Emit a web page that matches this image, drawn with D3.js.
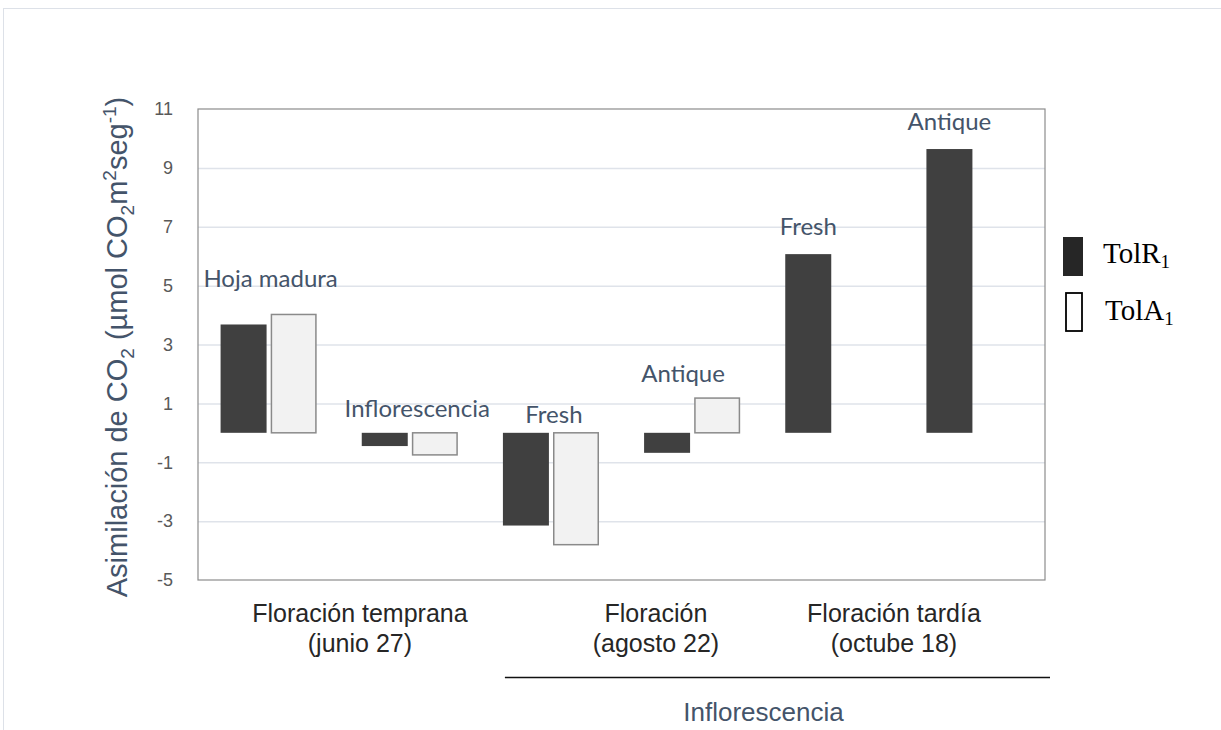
<!DOCTYPE html>
<html><head><meta charset="utf-8">
<script src="https://cdn.jsdelivr.net/npm/d3@7/dist/d3.min.js"></script>
<style>body{margin:0;background:#fff}svg{display:block}</style>
</head><body><svg id="c" width="1221" height="730"></svg>
<script>
const categories = ["c1","c2","c3","c4","c5","c6"];
const labels = ["Hoja madura","Inflorescencia","Fresh","Antique","Fresh","Antique"];
const tolR1 = [3.68, -0.45, -3.15, -0.68, 6.07, 9.64];
const tolA1 = [4.02, -0.75, -3.8, 1.18, null, null];
const labelAt = [4.95, 0.55, 0.33, 1.74, 6.72, 10.29];
const yTicks = [-5,-3,-1,1,3,5,7,9,11];
const seriesNames = ["TolR","TolA"];
const groupLabels = [["Floración temprana","(junio 27)"],["Floración","(agosto 22)"],["Floración tardía","(octube 18)"]];
const bracketLabel = "Inflorescencia";

const svg = d3.select("#c");
const m = {l:198, r:1045, t:109, b:580};
const x = d3.scaleBand().domain(categories).range([m.l, m.r]);
const y = d3.scaleLinear().domain([-5, 11]).range([m.b, m.t]);
const bw = 46, gap = 4;
const sub = d3.scaleBand().domain([0,1]).range([0, 2*bw+gap]).paddingInner(gap/(bw+gap/2));
const unit = x.bandwidth();

// outer frame
svg.append("rect").attr("x",3.5).attr("y",8.5).attr("width",1240).attr("height",760)
  .attr("fill","none").attr("stroke","#dde1e8").attr("stroke-width",1);

// grid
svg.append("g").selectAll("line").data(yTicks.slice(1,-1)).join("line")
  .attr("x1",m.l).attr("x2",m.r).attr("y1",d=>y(d)+0.5).attr("y2",d=>y(d)+0.5)
  .attr("stroke","#dfe3ea").attr("stroke-width",1.5);

// plot border
svg.append("rect").attr("x",m.l).attr("y",m.t).attr("width",m.r-m.l).attr("height",m.b-m.t)
  .attr("fill","none").attr("stroke","#8c8c8c").attr("stroke-width",1.2);

// y axis tick labels
const ax = d3.axisLeft(y).tickValues(yTicks).tickSize(0).tickPadding(25).tickFormat(d=>String(d));
const gy = svg.append("g").attr("transform",`translate(${m.l},0)`).call(ax);
gy.select(".domain").remove();
gy.selectAll("text").attr("font-family","Liberation Sans, Arial, sans-serif")
  .attr("font-size",18).attr("fill","#595959");

// bars
const grpOffset = (unit - (2*bw+gap))/2;
const series = [tolR1, tolA1];
series.forEach((vals, si) => {
  svg.append("g").selectAll("rect").data(vals.map((v,i)=>({v,i})).filter(d=>d.v!==null)).join("rect")
    .attr("x",d=>x(categories[d.i]) + grpOffset + sub(si) + (si===1?0.75:0))
    .attr("width",bw - (si===1?1.5:0))
    .attr("y",d=>y(Math.max(0,d.v)))
    .attr("height",d=>Math.abs(y(d.v)-y(0)))
    .attr("fill", si===0 ? "#404040" : "#f2f2f2")
    .attr("stroke", si===0 ? "none" : "#8a8a8a")
    .attr("stroke-width", 1.5);
});

// data labels
const labelDx = [2, 7.5, 3, -9, 0, 0];
svg.append("g").selectAll("text").data(labels).join("text")
  .attr("x",(d,i)=>{
    const bx = x(categories[i]) + grpOffset;
    if (tolA1[i]===null) return bx + sub(0) + bw/2 + labelDx[i];
    return bx + (2*bw+gap)/2 + labelDx[i];
  })
  .attr("y",(d,i)=>y(labelAt[i]))
  .attr("text-anchor","middle")
  .attr("font-family","Lato, sans-serif")
  .attr("font-size",24).attr("fill","#44546a")
  .text(d=>d);

// y title
svg.append("text")
  .attr("transform","translate(127,347) rotate(-90)")
  .attr("text-anchor","middle")
  .attr("font-family","Liberation Sans, Arial, sans-serif")
  .attr("font-size",29).attr("fill","#44546a")
  .call(t=>{
    const s = 19;
    t.append("tspan").text("Asimilación de CO");
    t.append("tspan").text("2").attr("font-size",s).attr("dy",7);
    t.append("tspan").text(" (µmol CO").attr("dy",-7);
    t.append("tspan").text("2").attr("font-size",s).attr("dy",7);
    t.append("tspan").text("m").attr("dy",-7);
    t.append("tspan").text("2").attr("font-size",s).attr("dy",-11);
    t.append("tspan").text("seg").attr("dy",11);
    t.append("tspan").text("-1").attr("font-size",s).attr("dy",-11);
    t.append("tspan").text(")").attr("dy",11);
  });

// x group labels
const groupPos = [1.147, 3.244, 4.93];
const xg = svg.append("g").attr("font-family","Liberation Sans, Arial, sans-serif")
  .attr("font-size",25).attr("fill","#262626").attr("text-anchor","middle");
groupLabels.forEach((lines,k)=>{
  const cx = m.l + groupPos[k] * unit;
  lines.forEach((ln,j)=>{
    xg.append("text").attr("x",cx).attr("y",622 + j*30).text(ln);
  });
});

// bracket line + Inflorescencia
const bx1 = m.l + 2.174*unit, bx2 = m.r + 5;
svg.append("line").attr("x1",bx1).attr("x2",bx2)
  .attr("y1",677.5).attr("y2",677.5).attr("stroke","#111").attr("stroke-width",1.3);
svg.append("text").attr("x",(bx1+bx2)/2 - 14).attr("y",721)
  .attr("text-anchor","middle").attr("font-family","Liberation Sans, Arial, sans-serif")
  .attr("font-size",26).attr("fill","#44546a").text(bracketLabel);

// legend
const lg = svg.append("g");
lg.append("rect").attr("x",1063).attr("y",237).attr("width",20).attr("height",39).attr("fill","#262626");
lg.append("rect").attr("x",1066).attr("y",293).attr("width",16).attr("height",38)
  .attr("fill","#fff").attr("stroke","#000").attr("stroke-width",1.8);
const leg = [{t:seriesNames[0],yy:263,xx:1103},{t:seriesNames[1],yy:320,xx:1105}];
leg.forEach(d=>{
  const t = lg.append("text").attr("x",d.xx).attr("y",d.yy)
    .attr("font-family","Liberation Serif, Times New Roman, serif").attr("font-size",29).attr("fill","#000");
  t.append("tspan").text(d.t);
  t.append("tspan").text("1").attr("font-size",19).attr("dy",5);
});
</script></body></html>
